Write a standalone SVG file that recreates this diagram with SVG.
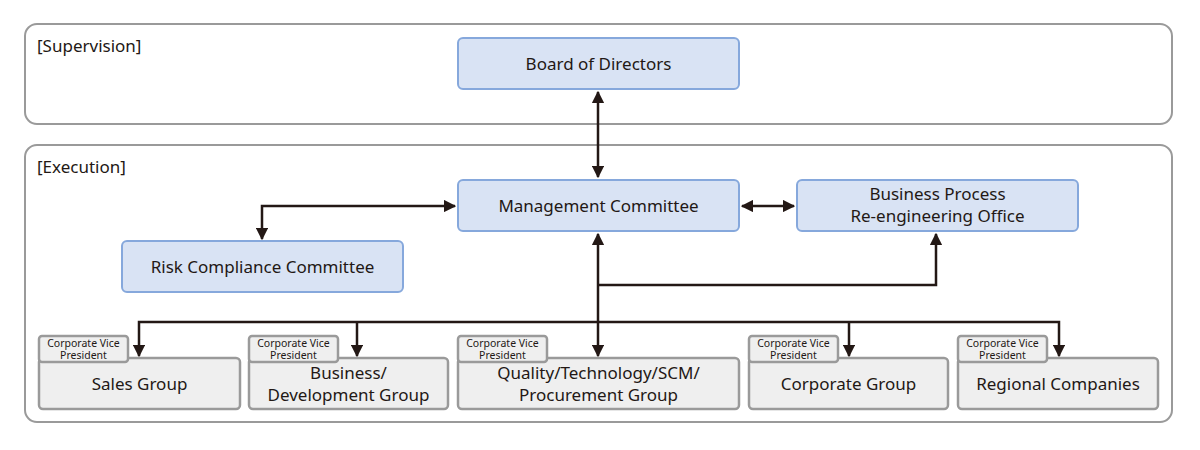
<svg xmlns="http://www.w3.org/2000/svg" width="1200" height="450" viewBox="0 0 1200 450">
<style>
text{font-family:"Noto Sans","Liberation Sans",sans-serif;fill:#231815;text-anchor:middle}
.area{fill:#fff;stroke:#9a9a9a;stroke-width:2}
.blue{fill:#d9e3f4;stroke:#86a8dc;stroke-width:2}
.grey{fill:#efefef;stroke:#9a9a9a;stroke-width:2.5}
.t{font-size:17px}
.s{font-size:10.5px}
.lbl{font-size:17px;text-anchor:start}
.c{fill:none;stroke:#231815;stroke-width:2.5}
</style>
<defs>
<marker id="a" viewBox="0 0 10 10" refX="9" refY="5" markerWidth="5" markerHeight="5" orient="auto-start-reverse" markerUnits="strokeWidth"><path d="M0,0L10,5L0,10z" fill="#231815"/></marker>
</defs>
<rect width="1200" height="450" fill="#fff"/>
<g id="supervision"><rect class="area" x="25" y="24" width="1147" height="100" rx="12"/><text class="lbl" x="37" y="52">[Supervision]</text></g>
<g id="execution"><rect class="area" x="25" y="145" width="1147" height="277" rx="12"/><text class="lbl" x="37" y="173">[Execution]</text></g>
<g id="board"><rect class="blue" x="458" y="38" width="281" height="51" rx="5"/><text class="t" x="598.5" y="70">Board of Directors</text></g>
<g id="mgmt"><rect class="blue" x="458" y="180" width="281" height="51" rx="5"/><text class="t" x="598.5" y="212">Management Committee</text></g>
<g id="bpr"><rect class="blue" x="797" y="180" width="281" height="51" rx="5"/><text class="t" x="937.5" y="200">Business Process</text><text class="t" x="937.5" y="222">Re-engineering Office</text></g>
<g id="risk"><rect class="blue" x="122" y="241" width="281" height="51" rx="5"/><text class="t" x="262.5" y="273">Risk Compliance Committee</text></g>
<g id="sales"><rect class="grey" x="39" y="358" width="201" height="51" rx="4"/><rect class="grey" x="39" y="336" width="89" height="26" rx="3"/><text class="s" x="83.5" y="347">Corporate Vice</text><text class="s" x="83.5" y="359">President</text><text class="t" x="139.5" y="390">Sales Group</text></g>
<g id="bizdev"><rect class="grey" x="249" y="358" width="199" height="51" rx="4"/><rect class="grey" x="249" y="336" width="89" height="26" rx="3"/><text class="s" x="293.5" y="347">Corporate Vice</text><text class="s" x="293.5" y="359">President</text><text class="t" x="348.5" y="379">Business/</text><text class="t" x="348.5" y="401">Development Group</text></g>
<g id="quality"><rect class="grey" x="458" y="358" width="281" height="51" rx="4"/><rect class="grey" x="458" y="336" width="89" height="26" rx="3"/><text class="s" x="502.5" y="347">Corporate Vice</text><text class="s" x="502.5" y="359">President</text><text class="t" x="598.5" y="379">Quality/Technology/SCM/</text><text class="t" x="598.5" y="401">Procurement Group</text></g>
<g id="corp"><rect class="grey" x="749" y="358" width="199" height="51" rx="4"/><rect class="grey" x="749" y="336" width="89" height="26" rx="3"/><text class="s" x="793.5" y="347">Corporate Vice</text><text class="s" x="793.5" y="359">President</text><text class="t" x="848.5" y="390">Corporate Group</text></g>
<g id="regional"><rect class="grey" x="958" y="358" width="200" height="51" rx="4"/><rect class="grey" x="958" y="336" width="89" height="26" rx="3"/><text class="s" x="1002.5" y="347">Corporate Vice</text><text class="s" x="1002.5" y="359">President</text><text class="t" x="1058" y="390">Regional Companies</text></g>
<g id="connectors">
<path class="c" d="M598,92V177" marker-start="url(#a)" marker-end="url(#a)"/>
<path class="c" d="M455,206H262V239" marker-start="url(#a)" marker-end="url(#a)"/>
<path class="c" d="M742,206H794" marker-start="url(#a)" marker-end="url(#a)"/>
<path class="c" d="M598,234V356" marker-start="url(#a)" marker-end="url(#a)"/>
<path class="c" d="M598,285H936V234" marker-end="url(#a)"/>
<path class="c" d="M139,356V322H1059V356" marker-start="url(#a)" marker-end="url(#a)"/>
<path class="c" d="M357,322V356" marker-end="url(#a)"/>
<path class="c" d="M849,322V356" marker-end="url(#a)"/>
</g>
</svg>
